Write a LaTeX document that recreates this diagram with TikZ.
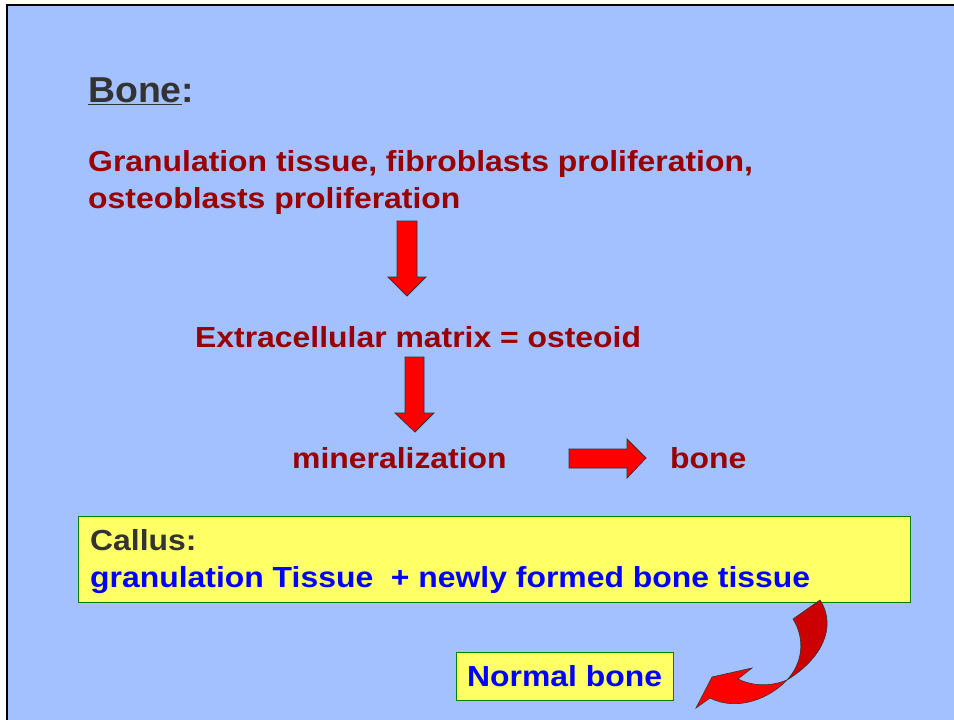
\documentclass[tikz,border=0pt]{standalone}
\usepackage{fontspec}
\setmainfont{Liberation Sans}
\newfontfamily\widefont[FakeStretch=1.1]{Liberation Sans}
\newfontfamily\titlefont[FakeStretch=1.04]{Liberation Sans}
\definecolor{bgblue}{RGB}{163,192,255}
\definecolor{dred}{RGB}{153,0,0}
\definecolor{dgray}{RGB}{51,51,51}
\definecolor{ylw}{RGB}{255,255,102}
\definecolor{grn}{RGB}{0,128,0}
\definecolor{arrred}{RGB}{255,0,0}
\definecolor{darkarr}{RGB}{204,0,0}
\definecolor{tblue}{RGB}{0,0,255}
\begin{document}
\begin{tikzpicture}[x=1pt,y=-1pt,
  txt/.style={anchor=base west,inner sep=0pt,font=\widefont\fontsize{29}{34}\selectfont\bfseries},
  redtxt/.style={txt,text=dred},
  boxy/.style={draw=grn,line width=1pt,fill=ylw},
  blockarrow/.style={fill=arrred,draw=dgray,line width=0.8pt,line join=miter}]
\useasboundingbox (0,0) rectangle (954,720);
\fill[white] (0,0) rectangle (954,720);
\fill[bgblue] (7,5) rectangle (960,730);
\draw[black,line width=2.5pt] (7,730) -- (7,5) -- (960,5);
% title
\node[txt,text=dgray,font=\titlefont\fontsize{36}{40}\selectfont\bfseries] (title) at (88,102) {\underline{Bone}:};
\node[redtxt] (l1) at (88,171) {Granulation tissue, fibroblasts proliferation,};
\node[redtxt] (l2) at (88,208) {osteoblasts proliferation};
\node[redtxt] (ecm) at (195,347) {Extracellular matrix = osteoid};
\node[redtxt] (mine) at (292,468) {mineralization};
\node[redtxt] (bone) at (670,468) {bone};
% arrows
\draw[blockarrow] (397,221) -- (417,221) -- (417,277) -- (426,277) -- (407,296) -- (388,277) -- (397,277) -- cycle;
\draw[blockarrow] (405,357) -- (424,357) -- (424,413) -- (434,413) -- (415,432) -- (395,413) -- (405,413) -- cycle;
\draw[blockarrow] (569,449) -- (627,449) -- (627,439) -- (646,458) -- (627,478) -- (627,468) -- (569,468) -- cycle;
% callus box
\draw[boxy] (78,516) rectangle (910,602);
\node[txt,text=dgray] (callus) at (90,550) {Callus:};
\node[txt,text=tblue] (gran) at (90,587) {granulation Tissue\ \ + newly formed bone tissue};
% normal bone
\node[boxy,minimum width=217pt,minimum height=48pt,inner sep=0pt] (normal) at (564.5,676) {};
\node[txt,text=tblue] (nb) at (467,686) {Normal bone};
% curved arrow
\draw[fill=darkarr,draw=dgray,line width=0.6pt] (820,600) -- (793,619)
  .. controls (806,640) and (802,664) .. (787,680)
  .. controls (820,660) and (838,628) .. cycle;
\draw[fill=arrred,draw=dgray,line width=0.6pt] (787,680)
  .. controls (770,687) and (752,686) .. (738,679)
  -- (752,668) -- (712,677) -- (696,708) -- (710,698)
  .. controls (738,712) and (770,698) .. cycle;
\end{tikzpicture}
\end{document}
